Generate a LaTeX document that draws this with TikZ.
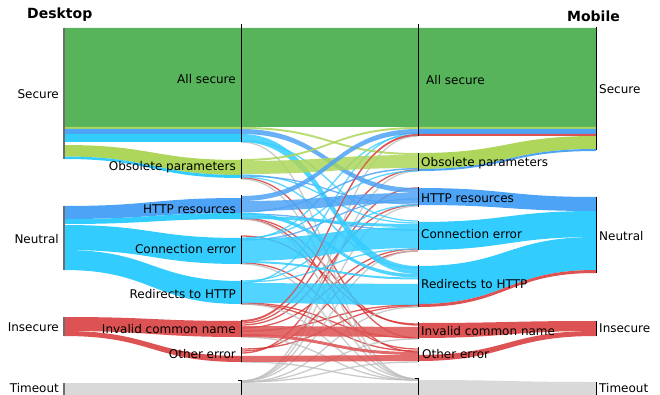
\documentclass[tikz,border=0pt]{standalone}
\usepackage{fontspec}
\setmainfont{DejaVu Sans}
\usepackage{xcolor}
\usepackage{tikz}
\usetikzlibrary{positioning, calc}
\definecolor{SecGreen}{RGB}{87, 180, 90}
\definecolor{ObsLime}{RGB}{173, 214, 90}
\definecolor{HttpBlue}{RGB}{77, 163, 245}
\definecolor{ConnCyan}{RGB}{51, 204, 255}
\definecolor{InsRed}{RGB}{221, 82, 82}
\definecolor{LinkRed}{RGB}{214, 50, 50}
\definecolor{TimeGray}{RGB}{217, 217, 217}
\definecolor{LinkGray}{RGB}{190, 190, 190}
\definecolor{BarGray}{RGB}{110, 110, 110}

% band between two columns: colour, x1, x2, top1, bottom1, top2, bottom2
\newcommand{\flow}[7]{%
  \fill[#1] (#2,#4) .. controls ({(#2+#3)/2},#4) and ({(#2+#3)/2},#6) .. (#3,#6)
    -- (#3,#7) .. controls ({(#2+#3)/2},#7) and ({(#2+#3)/2},#5) .. (#2,#5) -- cycle;}
% thin link across the middle: colour, y left, y right
\newcommand{\thinlink}[3]{%
  \draw[#1, line width=1.3pt, draw opacity=0.8] (241,#2) .. controls (329.5,#2) and (329.5,#3) .. (418,#3);}

\begin{document}
\begin{tikzpicture}[x=1pt,y=-1pt,
    lbl/.style={font=\fontsize{12}{14}\selectfont, inner sep=0pt},
    ttl/.style={font=\fontsize{14}{16}\selectfont\bfseries, inner sep=0pt},
    catbar/.style={BarGray, line width=1.3pt},
    subbar/.style={black, line width=0.9pt},
    mid/.style={fill opacity=0.85}]
  \path[use as bounding box] (0,0) rectangle (660,395);

  % Thin crossing links
  \thinlink{LinkRed}{321}{135}
  \thinlink{LinkRed}{323}{170}
  \thinlink{LinkRed}{325}{205}
  \thinlink{LinkRed}{328}{249}
  \thinlink{LinkRed}{331}{305}
  \thinlink{LinkRed}{349}{306}
  \thinlink{LinkRed}{351}{251}
  \thinlink{LinkRed}{353}{188}
  \thinlink{LinkRed}{178}{338}
  \thinlink{LinkRed}{218}{325}
  \thinlink{LinkRed}{219}{352}
  \thinlink{LinkRed}{236}{324}
  \thinlink{LinkRed}{263}{349}
  \thinlink{LinkRed}{303}{338}
  \thinlink{LinkRed}{304}{351}
  \thinlink{LinkGray}{381}{136}
  \thinlink{LinkGray}{381}{171}
  \thinlink{LinkGray}{381}{206}
  \thinlink{LinkGray}{381}{251}
  \thinlink{LinkGray}{382}{307}
  \thinlink{LinkGray}{382}{339}
  \thinlink{LinkGray}{382}{362}
  \thinlink{LinkGray}{142}{379}
  \thinlink{LinkGray}{179}{379}
  \thinlink{LinkGray}{219}{379}
  \thinlink{LinkGray}{264}{379}
  \thinlink{LinkGray}{304}{380}
  \thinlink{LinkGray}{337}{380}
  \thinlink{LinkGray}{362}{380}
  \thinlink{ConnCyan}{141}{221}
  \thinlink{ConnCyan}{175}{223}
  \thinlink{ConnCyan}{177}{268}
  \thinlink{ConnCyan}{238}{171}
  \thinlink{ConnCyan}{239}{135}
  \thinlink{ConnCyan}{281}{205}
  \thinlink{ConnCyan}{282}{249}
  \thinlink{ConnCyan}{283}{133}
  \thinlink{HttpBlue}{176}{204}
  \thinlink{HttpBlue}{214}{230}
  \thinlink{HttpBlue}{240}{199}

  % Desktop -> desktop detail
  \flow{SecGreen}{64}{241}{28}{127}{28}{127}
  \flow{ObsLime}{64}{241}{127}{129}{127}{129}
  \flow{HttpBlue}{64}{241}{129}{134}{129}{134}
  \flow{ConnCyan}{64}{241}{134}{142}{134}{142}
  \flow{ObsLime}{64}{241}{145}{156.5}{160}{175}
  \flow{ConnCyan}{64}{241}{156.5}{159}{175}{178}
  \flow{HttpBlue}{64}{241}{206}{219}{198}{213}
  \flow{ConnCyan}{64}{241}{219}{224}{213}{219}
  \flow{ConnCyan}{64}{241}{225}{250}{238}{264}
  \flow{ConnCyan}{64}{241}{250}{270}{281}{304}
  \flow{InsRed}{64}{241}{317}{331}{321}{337}
  \flow{InsRed}{64}{241}{331}{336}{356}{362}
  \flow{TimeGray}{64}{241}{383}{395}{383}{395}

  % Desktop detail -> mobile detail
  \flow{SecGreen}{241}{418}{28}{127}{28}{127}
  \flow{ObsLime, mid}{241}{418}{127}{129}{153}{155}
  \flow{HttpBlue, mid}{241}{418}{129}{134}{188}{193}
  \flow{ConnCyan, mid}{241}{418}{134}{142}{266}{274}
  \flow{ObsLime, mid}{241}{418}{159}{161}{127}{129}
  \flow{ObsLime, mid}{241}{418}{161}{174}{155}{168}
  \flow{HttpBlue, mid}{241}{418}{196}{201}{129}{134}
  \flow{HttpBlue, mid}{241}{418}{201}{211}{193}{203}
  \flow{HttpBlue, mid}{241}{418}{211}{212.5}{168}{169.5}
  \flow{ConnCyan, mid}{241}{418}{212.5}{216}{274}{277.5}
  \flow{ConnCyan, mid}{241}{418}{216}{219}{224}{227}
  \flow{ConnCyan, mid}{241}{418}{238.5}{261}{227}{248}
  \flow{ConnCyan, mid}{241}{418}{261}{263}{277.5}{279.5}
  \flow{ConnCyan, mid}{241}{418}{283}{303}{284}{305}
  \flow{InsRed, mid}{241}{418}{320}{322}{134}{136}
  \flow{InsRed, mid}{241}{418}{326}{336}{327}{337}
  \flow{InsRed, mid}{241}{418}{334}{337}{352}{355}
  \flow{InsRed, mid}{241}{418}{356}{362}{355}{361}
  \flow{TimeGray}{241}{418}{383}{395}{383}{395}

  % Mobile detail -> mobile
  \flow{SecGreen}{418}{596}{28}{127}{28}{127}
  \flow{ObsLime}{418}{596}{127}{129}{127}{129}
  \flow{HttpBlue}{418}{596}{129}{134}{129}{134}
  \flow{InsRed}{418}{596}{134}{136}{134}{136}
  \flow{ObsLime}{418}{596}{153}{169}{136}{149}
  \flow{HttpBlue}{418}{596}{169}{171}{149}{151}
  \flow{HttpBlue}{418}{596}{188}{205}{197}{211}
  \flow{ConnCyan}{418}{596}{222}{250}{211}{237}
  \flow{ConnCyan}{418}{596}{266}{304}{237}{270}
  \flow{InsRed}{418}{596}{304}{307}{270}{273}
  \flow{InsRed}{418}{596}{323}{338}{321}{331}
  \flow{InsRed}{418}{596}{355}{361}{331}{336}
  \flow{TimeGray}{418}{596}{380}{395}{382}{395}

  % Bars
  \draw[catbar] (64,28) -- (64,159);
  \draw[catbar] (64,206) -- (64,270);
  \draw[catbar] (64,317) -- (64,336);
  \draw[catbar] (64,383) -- (64,395);
  \draw[subbar] (241,24) -- (241,142);
  \draw[subbar] (241,159) -- (241,179);
  \draw[subbar] (241,195) -- (241,219);
  \draw[subbar] (241,236) -- (241,264);
  \draw[subbar] (241,280) -- (241,304);
  \draw[subbar] (241,320) -- (241,337);
  \draw[subbar] (241,347) -- (241,362);
  \draw[subbar] (238,380) -- (241,380) -- (241,395);
  \draw[subbar] (418,24) -- (418,136);
  \draw[subbar] (418,153) -- (418,171);
  \draw[subbar] (418,187) -- (418,207);
  \draw[subbar] (418,221) -- (418,250);
  \draw[subbar] (418,265) -- (418,307);
  \draw[subbar] (418,322) -- (418,339);
  \draw[subbar] (418,347) -- (418,362);
  \draw[subbar] (415,378) -- (418,378) -- (418,395);
  \draw[subbar] (596,27) -- (596,150);
  \draw[subbar] (596,197) -- (596,273);
  \draw[subbar] (596,321) -- (596,336);
  \draw[subbar] (596,382) -- (596,395);

  % Titles
  \node[ttl, anchor=west] (desktop) at (27,15) {Desktop};
  \node[ttl, anchor=east] (mobile) at (620,16) {Mobile};

  % Desktop labels
  \node[lbl, anchor=mid east] (dsecure) at (59,96) {Secure};
  \node[lbl, anchor=mid east] (dneutral) at (59,241) {Neutral};
  \node[lbl, anchor=mid east] (dinsecure) at (59,329) {Insecure};
  \node[lbl, anchor=mid east] (dtimeout) at (59,390) {Timeout};
  \node[lbl, anchor=mid east] (dall) at (236,81) {All secure};
  \node[lbl, anchor=mid east] (dobs) at (236,168) {Obsolete parameters};
  \node[lbl, anchor=mid east] (dhttp) at (236,211) {HTTP resources};
  \node[lbl, anchor=mid east] (dconn) at (236,251) {Connection error};
  \node[lbl, anchor=mid east] (dredir) at (236,296) {Redirects to HTTP};
  \node[lbl, anchor=mid east] (dinv) at (236,331) {Invalid common name};
  \node[lbl, anchor=mid east] (dother) at (236,356) {Other error};

  % Mobile labels
  \node[lbl, anchor=mid west] (mall) at (426,82) {All secure};
  \node[lbl, anchor=mid west] (mobs) at (421,164) {Obsolete parameters};
  \node[lbl, anchor=mid west] (mhttp) at (421,200) {HTTP resources};
  \node[lbl, anchor=mid west] (mconn) at (421,236) {Connection error};
  \node[lbl, anchor=mid west] (mredir) at (421,286) {Redirects to HTTP};
  \node[lbl, anchor=mid west] (minv) at (421,333) {Invalid common name};
  \node[lbl, anchor=mid west] (mother) at (422,356) {Other error};
  \node[lbl, anchor=mid west] (msecure) at (599,91) {Secure};
  \node[lbl, anchor=mid west] (mneutral) at (599,238) {Neutral};
  \node[lbl, anchor=mid west] (minsecure) at (599,330) {Insecure};
  \node[lbl, anchor=mid west] (mtimeout) at (599,390) {Timeout};
\end{tikzpicture}
\end{document}
